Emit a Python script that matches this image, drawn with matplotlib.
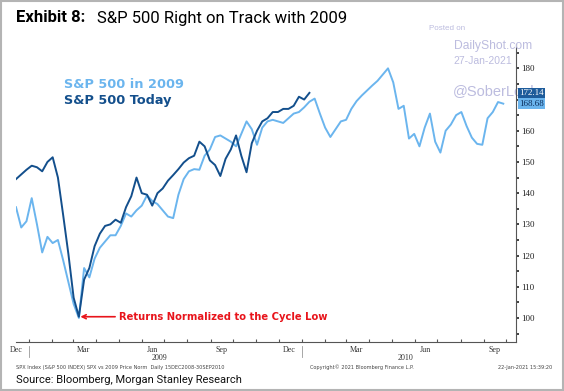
import numpy as np
import pandas as pd
import matplotlib
matplotlib.use("Agg")
import matplotlib.pyplot as plt
import matplotlib.dates as mdates
from matplotlib.patches import Rectangle

# S&P 500 normalized to the cycle low (=100), weekly readings
sp_2009 = [135.5, 129, 131, 138.4, 130, 121, 126, 124, 125, 118.5,
           111.5, 104.5, 100.0, 116, 113, 119, 122.5, 124.5, 126.5, 126.5,
           129.5, 133.5, 132.5, 134.5, 136, 139.3, 137.5, 136.5, 134.5, 132.5,
           132, 139.5, 144.5, 147, 147.7, 147.5, 152, 154, 158, 158.5,
           157.5, 156.5, 155, 159, 163, 160.5, 155.5, 161, 163, 163.5,
           163, 162.5, 164, 165.5, 166, 167.5, 169.3, 170.3, 165.5, 161,
           158, 160.5, 163, 163.5, 167, 169.5, 171.3, 172.9, 174.5, 176,
           178, 180, 175.5, 167, 168, 157.5, 159, 155, 161, 165.5,
           156.5, 153, 160, 162, 165, 166, 161.5, 157.8, 155.8, 155.5,
           164, 166, 169.2, 168.68]
sp_today = [144.5, 146, 147.5, 148.8, 148.3, 147, 150, 151.5, 145, 133,
            120.5, 106.5, 100.4, 112.3, 116, 123, 127, 129.5, 130, 131.5,
            130.5, 135.5, 139, 145, 140, 139.5, 136, 140, 141.5, 144,
            145.8, 147.7, 149.8, 151.2, 152, 156.5, 155, 150.5, 149, 145.5,
            151, 154, 158.5, 152, 146.7, 156, 160, 163, 164, 166,
            166, 167, 167, 168, 170.9, 170, 172.14]

dates_2009 = pd.date_range("2008-12-15", periods=len(sp_2009), freq="7D")
dates_today = pd.date_range("2008-12-15", periods=len(sp_today), freq="7D")

month_labels = ["Dec", "Mar", "Jun", "Sep", "Dec", "Mar", "Jun", "Sep"]
month_label_dates = pd.to_datetime(["2008-12-15", "2009-03-15", "2009-06-15", "2009-09-15",
                                    "2009-12-15", "2010-03-15", "2010-06-15", "2010-09-15"])
year_labels = ["2009", "2010"]
year_label_dates = pd.to_datetime(["2009-06-25", "2010-05-20"])
year_breaks = pd.to_datetime(["2009-01-01", "2010-01-01"])

light = "#6bb5ee"
dark = "#134f8c"
wm = "#bcbcdf"

fig = plt.figure(figsize=(5.64, 3.91), dpi=100)
fig.patches.append(Rectangle((0.002, 0.003), 0.996, 0.994, transform=fig.transFigure,
                             fill=False, edgecolor="#b4b4b4", lw=1.5))

ax = fig.add_axes([16 / 564, 1 - 342 / 391, 500 / 564, 298 / 391])
ax.patch.set_visible(False)
ax.plot(dates_2009, sp_2009, color=light, lw=1.4, zorder=3)
ax.plot(dates_today, sp_today, color=dark, lw=1.4, zorder=4)

ax.set_xlim(pd.Timestamp("2008-12-15"), pd.Timestamp("2010-10-14"))
ax.set_ylim(92.3, 187.8)

for s in ["top", "left"]:
    ax.spines[s].set_visible(False)
ax.spines["right"].set_color("#555555")
ax.spines["bottom"].set_color("#555555")

ax.yaxis.tick_right()
ax.set_yticks(np.arange(100, 181, 10))
ax.set_yticks(np.arange(95, 186, 10), minor=True)
ax.tick_params(axis="y", which="both", direction="out", length=2, width=1.2, colors="#222222",
               labelsize=6.5, pad=2)
for lab in ax.get_yticklabels():
    lab.set_family("Liberation Serif")

ax.xaxis.set_major_locator(mdates.MonthLocator())
ax.tick_params(axis="x", which="major", direction="in", length=2, width=0.8, colors="#555555",
               labelbottom=False)

xtr = ax.get_xaxis_transform()
for d, lab in zip(month_label_dates, month_labels):
    ax.text(d, -0.012, lab, transform=xtr, ha="center", va="top", fontsize=5.8,
            family="Liberation Serif", color="#333333")
for d, lab in zip(year_label_dates, year_labels):
    ax.text(d, -0.04, lab, transform=xtr, ha="center", va="top", fontsize=5.8,
            family="Liberation Serif", color="#333333")
for d in year_breaks:
    ax.plot([d, d], [-0.012, -0.05], transform=xtr, color="#999999", lw=0.6, clip_on=False)

# watermark under the value tags
ax.text(453 / 564, 1 - 91 / 391, "@SoberLook", transform=fig.transFigure, fontsize=10.5,
        color=wm, va="center", family="Liberation Sans", zorder=1, clip_on=False)

# value tags on the right axis
ytr = ax.get_yaxis_transform()
ax.text(1.006, 172.14, "172.14", transform=ytr, ha="left", va="center",
        fontsize=6.5, family="Liberation Serif", color="white", zorder=6, clip_on=False,
        bbox=dict(boxstyle="square,pad=0.15", fc="#1e5c9b", ec="none"))
ax.text(1.006, 168.68, "168.68", transform=ytr, ha="left", va="center",
        fontsize=6.5, family="Liberation Serif", color="#0c2f5c", zorder=6, clip_on=False,
        bbox=dict(boxstyle="square,pad=0.15", fc="#6bb5ee", ec="none"))

# legend text
fig.text(64 / 564, 1 - 84 / 391, "S&P 500 in 2009", fontsize=9.3, fontweight="bold",
         color=light, va="center")
fig.text(64 / 564, 1 - 100.5 / 391, "S&P 500 Today", fontsize=9.3, fontweight="bold",
         color=dark, va="center")

# annotation
ax.annotate("Returns Normalized to the Cycle Low", xy=(pd.Timestamp("2009-03-11"), 100.4),
            xytext=(pd.Timestamp("2009-05-02"), 100.4), va="center", ha="left",
            fontsize=7.2, fontweight="bold", color="#e8141b",
            arrowprops=dict(arrowstyle="->", color="#e8141b", lw=1.2, shrinkA=1, shrinkB=0))

# title and notes
fig.text(16 / 564, 1 - 18 / 391, "Exhibit 8:", fontsize=12, fontweight="bold",
         family="Roboto", va="center")
fig.text(97 / 564, 1 - 18 / 391, "S&P 500 Right on Track with 2009", fontsize=12,
         family="Roboto", va="center")
fig.text(429 / 564, 1 - 29 / 391, "Posted on", fontsize=5.8, color=wm, va="center",
         family="Liberation Sans")
fig.text(454 / 564, 1 - 46 / 391, "DailyShot.com", fontsize=8.7, color=wm, va="center",
         family="Liberation Sans")
fig.text(453 / 564, 1 - 61 / 391, "27-Jan-2021", fontsize=7.5, color=wm, va="center",
         family="Liberation Sans")

fig.text(16 / 564, 1 - 367 / 391,
         "SPX Index (S&P 500 INDEX) SPX vs 2009 Price Norm  Daily 15DEC2008-30SEP2010",
         fontsize=3.6, color="#444444", va="center")
fig.text(310 / 564, 1 - 367 / 391, "Copyright\u00a9 2021 Bloomberg Finance L.P.",
         fontsize=3.6, color="#444444", va="center")
fig.text(552 / 564, 1 - 367 / 391, "22-Jan-2021 15:39:20", fontsize=3.6,
         color="#444444", va="center", ha="right")
fig.text(16 / 564, 1 - 380 / 391, "Source: Bloomberg, Morgan Stanley Research", fontsize=8,
         family="Roboto", va="center", color="#111111")

fig.savefig("out.png", dpi=100)
